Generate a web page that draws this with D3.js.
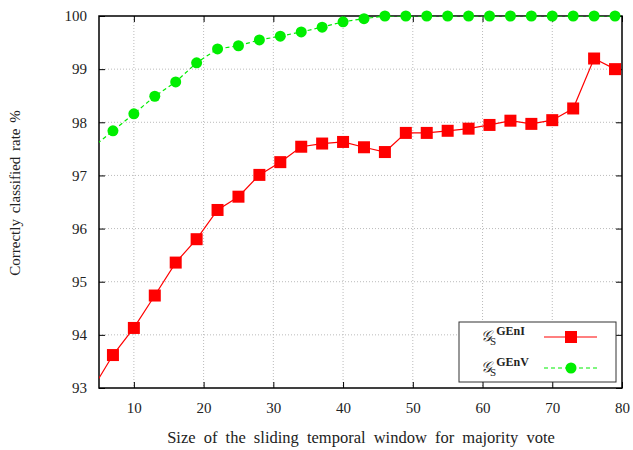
<!DOCTYPE html>
<html>
<head>
<meta charset="utf-8">
<script src="https://cdn.jsdelivr.net/npm/d3@7"></script>
<style>
  body { margin: 0; background: #fff; }
  text { font-family: "Liberation Serif", "DejaVu Serif", serif; fill: #222; }
  .grid line { stroke: #bbb; stroke-dasharray: 1,2; }
</style>
</head>
<body>
<svg width="633" height="450"></svg>
<script>
// window sizes (x = 4 falls outside the axis, only its line segment shows)
var windowSizes = [4, 7, 10, 13, 16, 19, 22, 25, 28, 31, 34, 37, 40, 43, 46, 49, 52, 55, 58, 61, 64, 67, 70, 73, 76, 79];
var genI = [92.97, 93.62, 94.13, 94.74, 95.36, 95.80, 96.35, 96.60, 97.01, 97.25, 97.54, 97.60, 97.63, 97.53, 97.44, 97.80, 97.80, 97.84, 97.88, 97.95, 98.03, 97.97, 98.04, 98.26, 99.20, 99.00];
var genV = [97.52, 97.84, 98.16, 98.49, 98.76, 99.12, 99.38, 99.44, 99.55, 99.62, 99.70, 99.79, 99.89, 99.95, 100, 100, 100, 100, 100, 100, 100, 100, 100, 100, 100, 100];
var xTicks = [10, 20, 30, 40, 50, 60, 70, 80];
var yTicks = [93, 94, 95, 96, 97, 98, 99, 100];

var svg = d3.select("svg");
var pLeft = 99, pRight = 622, pTop = 16, pBottom = 388;

var x = d3.scaleLinear().domain([5, 80]).range([pLeft, pRight]);
var y = d3.scaleLinear().domain([93, 100]).range([pBottom, pTop]);

svg.append("defs").append("clipPath").attr("id", "plotclip")
  .append("rect").attr("x", pLeft).attr("y", pTop)
  .attr("width", pRight - pLeft).attr("height", pBottom - pTop);

// grid
var grid = svg.append("g").attr("class", "grid");
grid.selectAll(".gx").data(xTicks.filter(function(d) { return d < 80; }))
  .enter().append("line")
  .attr("x1", function(d) { return x(d); }).attr("x2", function(d) { return x(d); })
  .attr("y1", pTop).attr("y2", pBottom);
grid.selectAll(".gy").data(yTicks.filter(function(d) { return d > 93 && d < 100; }))
  .enter().append("line")
  .attr("y1", function(d) { return y(d); }).attr("y2", function(d) { return y(d); })
  .attr("x1", pLeft).attr("x2", pRight);

// axes with inward ticks
svg.append("g").attr("transform", "translate(0," + pBottom + ")")
  .call(d3.axisBottom(x).tickValues(xTicks).tickFormat(d3.format("d"))
    .tickSizeInner(-6).tickSizeOuter(0).tickPadding(14))
  .call(function(g) { g.select(".domain").remove(); });
svg.append("g").attr("transform", "translate(0," + pTop + ")")
  .call(d3.axisTop(x).tickValues(xTicks).tickSizeInner(-6).tickSizeOuter(0).tickFormat(""))
  .call(function(g) { g.select(".domain").remove(); });
svg.append("g").attr("transform", "translate(" + pLeft + ",0)")
  .call(d3.axisLeft(y).tickValues(yTicks).tickFormat(d3.format("d"))
    .tickSizeInner(-6).tickSizeOuter(0).tickPadding(12))
  .call(function(g) { g.select(".domain").remove(); });
svg.append("g").attr("transform", "translate(" + pRight + ",0)")
  .call(d3.axisRight(y).tickValues(yTicks).tickSizeInner(-6).tickSizeOuter(0).tickFormat(""))
  .call(function(g) { g.select(".domain").remove(); });

svg.selectAll(".tick text").style("font-family", "'Liberation Serif', serif")
  .style("font-size", "15px").attr("fill", "#222");
svg.selectAll(".tick line").attr("stroke", "#000");

svg.append("rect").attr("x", pLeft).attr("y", pTop)
  .attr("width", pRight - pLeft).attr("height", pBottom - pTop)
  .attr("fill", "none").attr("stroke", "#000").attr("stroke-width", 1.5);

// series
function pts(vals) {
  return windowSizes.map(function(w, i) { return [w, vals[i]]; });
}
var line = d3.line().x(function(d) { return x(d[0]); }).y(function(d) { return y(d[1]); });

svg.append("path").datum(pts(genI)).attr("clip-path", "url(#plotclip)")
  .attr("d", line).attr("fill", "none").attr("stroke", "#ff0000").attr("stroke-width", 1.2);
svg.append("path").datum(pts(genV)).attr("clip-path", "url(#plotclip)")
  .attr("d", line).attr("fill", "none").attr("stroke", "#00ee00").attr("stroke-width", 1.2)
  .attr("stroke-dasharray", "4,3");

svg.selectAll(".sq").data(pts(genI).filter(function(d) { return d[0] >= 5; }))
  .enter().append("rect")
  .attr("x", function(d) { return x(d[0]) - 6; })
  .attr("y", function(d) { return y(d[1]) - 6; })
  .attr("width", 12).attr("height", 12).attr("fill", "#ff0000");
svg.selectAll(".dot").data(pts(genV).filter(function(d) { return d[0] >= 5; }))
  .enter().append("circle")
  .attr("cx", function(d) { return x(d[0]); })
  .attr("cy", function(d) { return y(d[1]); })
  .attr("r", 5.5).attr("fill", "#00ee00");

// axis titles
svg.append("text").attr("x", 361).attr("y", 443)
  .attr("text-anchor", "middle").style("font-size", "16.5px").style("word-spacing", "4px")
  .text("Size of the sliding temporal window for majority vote");
svg.append("text").attr("transform", "translate(20,193) rotate(-90)")
  .attr("text-anchor", "middle").style("font-size", "15px").style("word-spacing", "2px")
  .text("Correctly classified rate %");

// legend
var legend = svg.append("g");
legend.append("rect").attr("x", 459).attr("y", 322).attr("width", 157).attr("height", 60)
  .attr("fill", "#fff").attr("stroke", "#333").attr("stroke-width", 1);
var entries = [
  { sup: "GEnI", color: "#ff0000", dash: null, shape: "square", cy: 337 },
  { sup: "GEnV", color: "#00ee00", dash: "4,3", shape: "circle", cy: 368 }
];
entries.forEach(function(e) {
  var t = legend.append("text").attr("x", 481).attr("y", e.cy + 4).style("font-size", "15px");
  t.append("tspan").style("font-style", "italic").text("\u{1D4A2}");
  t.append("tspan").attr("dy", 4).attr("dx", -2).style("font-size", "11px").text("S");
  t.append("tspan").attr("dy", -10).attr("dx", 0).style("font-size", "12px")
    .style("font-weight", "bold").text(e.sup);
  legend.append("line").attr("x1", 544).attr("x2", 597).attr("y1", e.cy).attr("y2", e.cy)
    .attr("stroke", e.color).attr("stroke-width", 1.2)
    .attr("stroke-dasharray", e.dash);
  if (e.shape === "square") {
    legend.append("rect").attr("x", 565).attr("y", e.cy - 6).attr("width", 12).attr("height", 12)
      .attr("fill", e.color);
  } else {
    legend.append("circle").attr("cx", 571).attr("cy", e.cy).attr("r", 5.5).attr("fill", e.color);
  }
});
</script>
</body>
</html>
